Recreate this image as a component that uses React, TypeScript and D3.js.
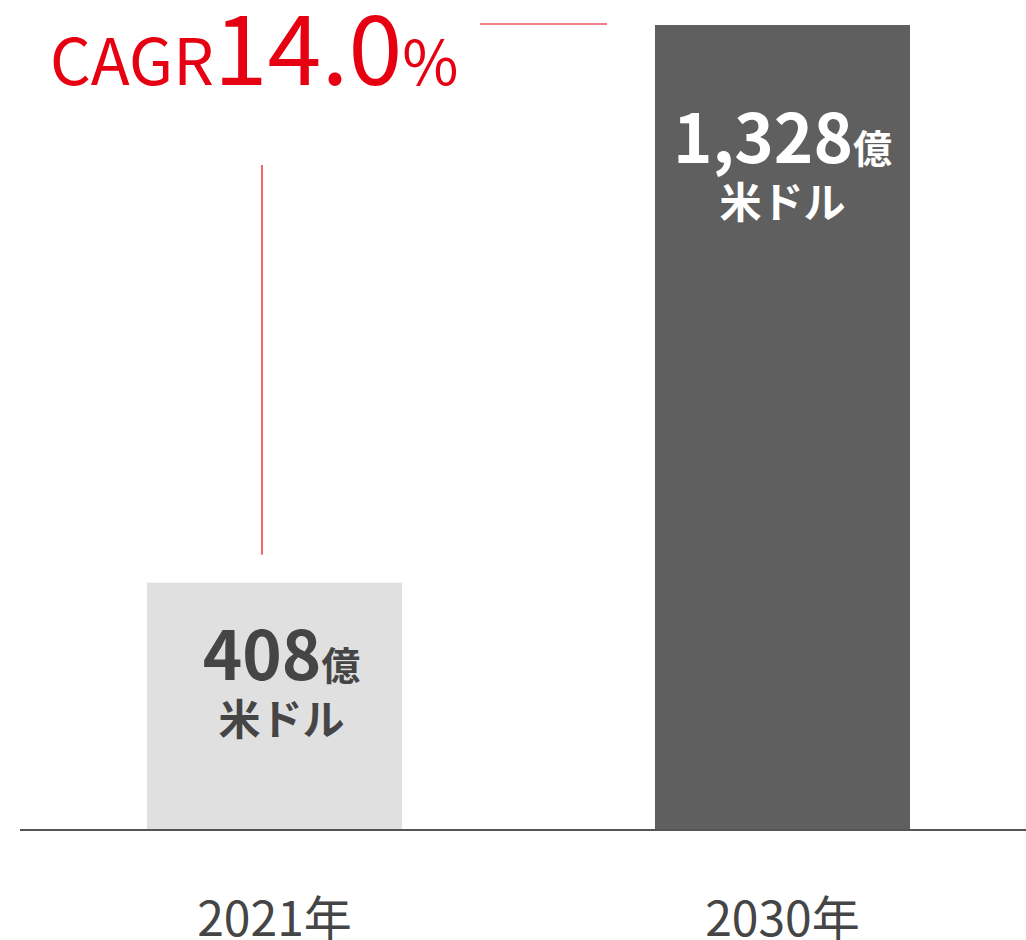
import React from "react";
import * as d3 from "d3";

const categories = ["2021年", "2030年"];
const values = [408, 1328];
const valueLabels = ["408", "1,328"];
const unitSmall = "億";
const unitLine2 = "米ドル";
const cagrPrefix = "CAGR";
const cagrValue = "14.0";
const cagrSuffix = "%";

const W = 1026;
const H = 940;
const FONT = "'Noto Sans CJK JP', 'Noto Sans', sans-serif";
const RED = "#e60012";
const barColors = ["#e0e0e0", "#5f5f5f"];
const labelColors = ["#454545", "#ffffff"];

export default function App() {
  const x = d3
    .scaleBand<string>()
    .domain(categories)
    .range([20, 1037])
    .paddingInner(0.498)
    .paddingOuter(0.25);
  const y = d3.scaleLinear().domain([0, d3.max(values) as number]).range([830, 25]);
  const bw = x.bandwidth();

  return (
    <svg
      width={W}
      height={H}
      style={{ position: "absolute", left: 0, top: 0, background: "#fff" }}
      fontFamily={FONT}
    >
      {categories.map((c, i) => {
        const x0 = x(c) as number;
        const cx = x0 + bw / 2;
        const top = y(values[i]);
        const ly = i === 0 ? top + 97 : top + 138;
        return (
          <g key={c}>
            <rect x={x0} y={top} width={bw} height={y(0) - top} fill={barColors[i]} />
            <text
              x={cx + (i === 0 ? 7 : 0)}
              y={ly}
              textAnchor="middle"
              fill={labelColors[i]}
              fontWeight={700}
              fontSize={67}
            >
              {valueLabels[i]}
              <tspan fontSize={39}>{unitSmall}</tspan>
            </text>
            <text
              x={cx + (i === 0 ? 7 : 0)}
              y={ly + 55}
              textAnchor="middle"
              fill={labelColors[i]}
              fontWeight={700}
              fontSize={42}
            >
              {unitLine2}
            </text>
            <text x={cx} y={936} textAnchor="middle" fill="#454545" fontSize={48}>
              {c}
            </text>
          </g>
        );
      })}
      <line x1={20} x2={W} y1={y(0)} y2={y(0)} stroke="#555" strokeWidth={2} />
      <line
        x1={480}
        x2={607}
        y1={y(values[1]) - 1}
        y2={y(values[1]) - 1}
        stroke={RED}
        strokeWidth={1.2}
      />
      <line
        x1={262}
        x2={262}
        y1={165}
        y2={y(values[0]) - 28}
        stroke={RED}
        strokeWidth={1.2}
      />
      <text x={50} y={85} fill={RED} fontSize={64}>
        {cagrPrefix}
        <tspan fontSize={97}>{cagrValue}</tspan>
        <tspan fontSize={61}>{cagrSuffix}</tspan>
      </text>
    </svg>
  );
}
